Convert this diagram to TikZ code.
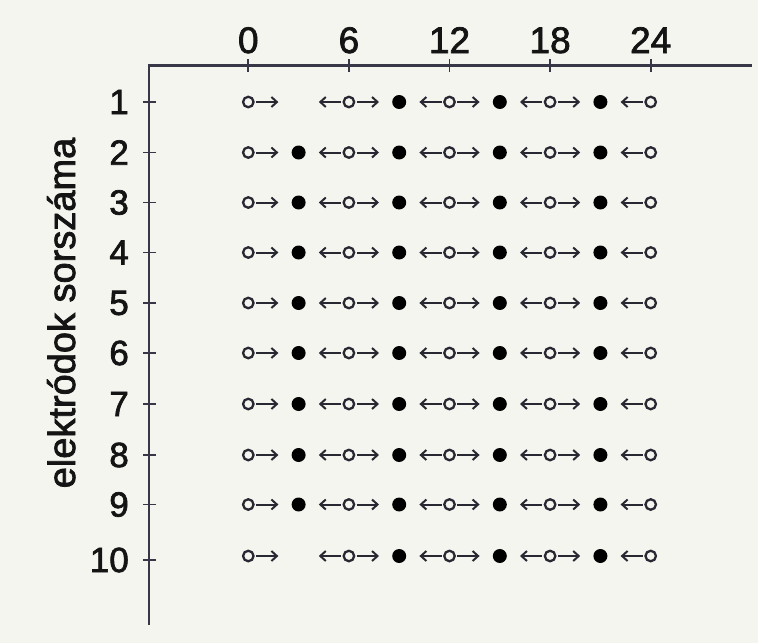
\documentclass[tikz,border=0pt]{standalone}
\usepackage{fontspec}
\setmainfont{Liberation Sans}
\newfontfamily\labfont[FakeBold=2]{Liberation Sans}
\usetikzlibrary{arrows.meta}
\definecolor{bg}{RGB}{245,245,240}
\definecolor{axiscol}{RGB}{55,55,72}
\definecolor{ink}{RGB}{40,40,50}
\begin{document}
\begin{tikzpicture}[x=1pt,y=-1pt,
  axisline/.style={draw=axiscol,line width=2.4pt},
  tickline/.style={draw=axiscol,line width=1.8pt},
  toplabel/.style={font=\labfont\fontsize{37}{37}\selectfont,anchor=base,inner sep=0pt,text=black!92},
  rowlabel/.style={font=\labfont\fontsize{35}{35}\selectfont,anchor=east,inner sep=0pt,text=black!92},
  ytitle/.style={font=\labfont\fontsize{38}{38}\selectfont,anchor=base,inner sep=0pt,rotate=90,text=black!92},
  opendot/.style={circle,draw=ink,line width=2.3pt,fill=bg,minimum size=10.5pt,inner sep=0pt},
  filldot/.style={circle,fill=black,minimum size=14pt,inner sep=0pt},
  nodot/.style={circle,minimum size=14pt,inner sep=0pt},
  flow/.style={draw=ink,line width=2pt,-{Straight Barb[length=5.5pt,width=10pt,line width=2pt]},
    shorten <=1.5pt,shorten >=13pt}
]
\fill[bg] (0,0) rectangle (758,643);
\useasboundingbox (0,0) rectangle (758,643);

% axes
\coordinate (corner) at (149,65.5);
\coordinate (xend) at (752,65.5);
\coordinate (yend) at (149,625);
\draw[axisline] (xend) -- (corner) -- (yend);

% time axis ticks and labels
\foreach \k/\lab in {0/0,1/6,2/12,3/18,4/24}{
  \pgfmathsetmacro{\xx}{248.3+100.6*\k}
  \coordinate (tt-\k) at (\xx,59);
  \coordinate (tb-\k) at (\xx,72);
  \draw[tickline] (tt-\k) -- (tb-\k);
  \node[toplabel] (tl-\k) at (\xx,53) {\lab};
}

% electrode ticks and labels
\foreach \r/\ty in {1/102,2/152.5,3/202.5,4/252.5,5/303,6/353,7/404,8/455,9/504.5,10/560}{
  \coordinate (rl-\r) at (143,\ty);
  \coordinate (rr-\r) at (156,\ty);
  \draw[tickline] (rl-\r) -- (rr-\r);
  \node[rowlabel] (lab-\r) at (129,\ty) {\r};
}

\node[ytitle] (title) at (75,313) {elektródok sorszáma};

% rows of electrodes
\foreach \r/\dy in {1/102,2/152.5,3/202.5,4/252.5,5/303,6/353,7/404,8/455,9/504.5,10/556}{
  \foreach \k in {0,...,4}{
    \node[opendot] (o-\r-\k) at (248.3+100.6*\k,\dy) {};
  }
  \foreach \k in {0,...,3}{
    \ifnum\r=1 \def\dstyle{nodot}\else\ifnum\r=10 \def\dstyle{nodot}\else\def\dstyle{filldot}\fi\fi
    \ifnum\k>0 \def\dstyle{filldot}\fi
    \node[\dstyle] (f-\r-\k) at (298.6+100.6*\k,\dy) {};
  }
  \foreach \k in {0,...,3}{
    \pgfmathtruncatemacro{\kn}{\k+1}
    \draw[flow] (o-\r-\k) -- (f-\r-\k);
    \draw[flow] (o-\r-\kn) -- (f-\r-\k);
  }
}
\end{tikzpicture}
\end{document}
